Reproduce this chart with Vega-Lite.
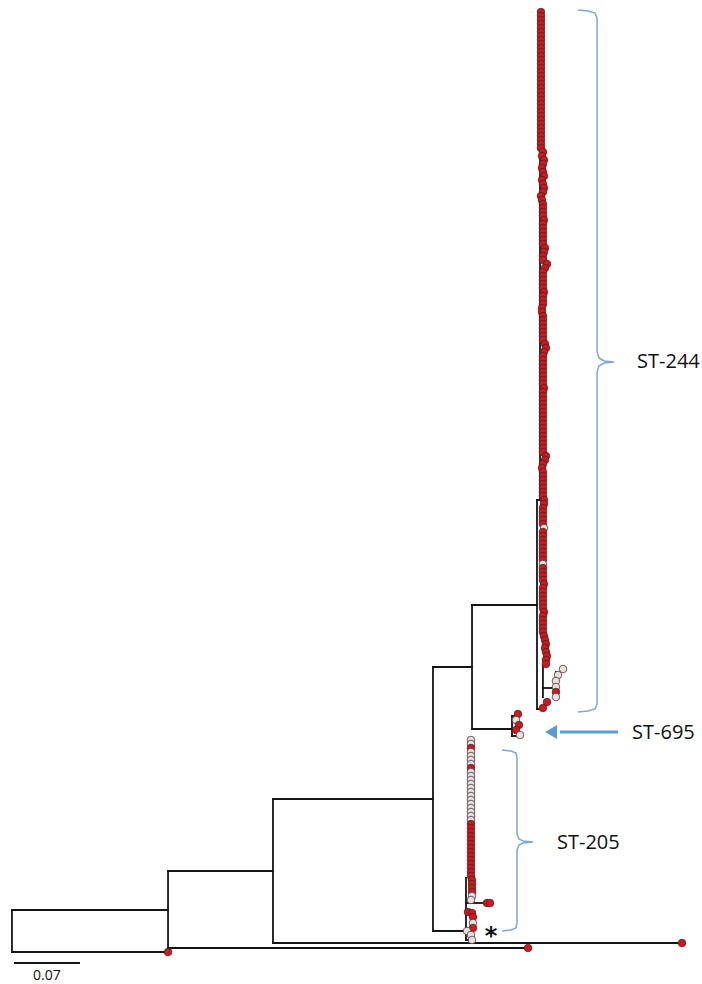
{
"$schema": "https://vega.github.io/schema/vega-lite/v6.json",
"width": 702, "height": 984,
"autosize": {"type": "fit", "contains": "padding"},
"padding": 0,
"background": "white",
"config": {"view": {"stroke": null}},
"datasets": {
"edges": [
{"x":0,"x2":0,"y":910,"y2":952},
{"x":0,"x2":0.1655,"y":910,"y2":910},
{"x":0,"x2":0.1655,"y":952,"y2":952},
{"x":0.1655,"x2":0.1655,"y":871,"y2":952},
{"x":0.1655,"x2":0.2768,"y":871,"y2":871},
{"x":0.1655,"x2":0.5473,"y":948,"y2":948},
{"x":0.2768,"x2":0.2768,"y":799,"y2":943},
{"x":0.2768,"x2":0.4465,"y":799,"y2":799},
{"x":0.2768,"x2":0.7106,"y":943,"y2":943},
{"x":0.4465,"x2":0.4465,"y":667,"y2":931},
{"x":0.4465,"x2":0.4879,"y":667,"y2":667},
{"x":0.4465,"x2":0.4815,"y":931,"y2":931},
{"x":0.4879,"x2":0.4879,"y":605,"y2":729},
{"x":0.4879,"x2":0.5568,"y":605,"y2":605},
{"x":0.4879,"x2":0.5303,"y":729,"y2":729},
{"x":0.5568,"x2":0.5568,"y":500,"y2":709},
{"x":0.5568,"x2":0.561,"y":500,"y2":500},
{"x":0.56,"x2":0.56,"y":12,"y2":500},
{"x":0.5568,"x2":0.5631,"y":709,"y2":709},
{"x":0.5631,"x2":0.5631,"y":665,"y2":697},
{"x":0.5631,"x2":0.5769,"y":688,"y2":688},
{"x":0.5769,"x2":0.5769,"y":672,"y2":697},
{"x":0.5303,"x2":0.5303,"y":716,"y2":736},
{"x":0.5303,"x2":0.5366,"y":716,"y2":716},
{"x":0.5303,"x2":0.5366,"y":736,"y2":736},
{"x":0.4815,"x2":0.4815,"y":878,"y2":940},
{"x":0.4815,"x2":0.5038,"y":903,"y2":903},
{"x":0.4847,"x2":0.4847,"y":740,"y2":880},
{"x":0.4815,"x2":0.4858,"y":940,"y2":940}
],
"tips": [
{"x":0.1655,"y":952,"c":"r"},{"x":0.5473,"y":948,"c":"r"},{"x":0.7106,"y":943,"c":"r"},
{"x":0.561,"y":12,"c":"r"},{"x":0.561,"y":16,"c":"r"},{"x":0.561,"y":20,"c":"r"},{"x":0.561,"y":24,"c":"r"},{"x":0.561,"y":28,"c":"r"},{"x":0.561,"y":32,"c":"r"},{"x":0.561,"y":36,"c":"r"},{"x":0.561,"y":40,"c":"r"},{"x":0.561,"y":44,"c":"r"},{"x":0.561,"y":48,"c":"r"},
{"x":0.561,"y":52,"c":"r"},{"x":0.561,"y":56,"c":"r"},{"x":0.561,"y":60,"c":"r"},{"x":0.561,"y":64,"c":"r"},{"x":0.561,"y":68,"c":"r"},{"x":0.561,"y":72,"c":"r"},{"x":0.561,"y":76,"c":"r"},{"x":0.561,"y":80,"c":"r"},{"x":0.561,"y":84,"c":"r"},{"x":0.561,"y":88,"c":"r"},
{"x":0.561,"y":92,"c":"r"},{"x":0.561,"y":96,"c":"r"},{"x":0.561,"y":100,"c":"r"},{"x":0.561,"y":104,"c":"r"},{"x":0.561,"y":108,"c":"r"},{"x":0.561,"y":112,"c":"r"},{"x":0.561,"y":116,"c":"r"},{"x":0.561,"y":120,"c":"r"},{"x":0.561,"y":124,"c":"r"},{"x":0.561,"y":128,"c":"r"},
{"x":0.561,"y":132,"c":"r"},{"x":0.561,"y":136,"c":"r"},{"x":0.561,"y":140,"c":"r"},{"x":0.561,"y":144,"c":"r"},{"x":0.561,"y":148,"c":"r"},
{"x":0.5631,"y":152,"c":"r"},{"x":0.5621,"y":156,"c":"r"},{"x":0.5642,"y":160,"c":"r"},{"x":0.5631,"y":164,"c":"r"},{"x":0.5621,"y":168,"c":"r"},{"x":0.5631,"y":172,"c":"r"},{"x":0.5642,"y":176,"c":"r"},{"x":0.5621,"y":180,"c":"r"},{"x":0.5631,"y":184,"c":"r"},{"x":0.5642,"y":188,"c":"r"},
{"x":0.5631,"y":192,"c":"r"},{"x":0.561,"y":196,"c":"r"},{"x":0.5621,"y":200,"c":"r"},{"x":0.5631,"y":204,"c":"r"},{"x":0.5631,"y":208,"c":"r"},{"x":0.5631,"y":212,"c":"r"},{"x":0.5631,"y":216,"c":"r"},{"x":0.5642,"y":220,"c":"r"},{"x":0.5631,"y":224,"c":"r"},{"x":0.5631,"y":228,"c":"r"},
{"x":0.5631,"y":232,"c":"r"},{"x":0.5631,"y":236,"c":"r"},{"x":0.5631,"y":240,"c":"r"},{"x":0.5631,"y":244,"c":"r"},{"x":0.5653,"y":248,"c":"r"},{"x":0.5642,"y":252,"c":"r"},{"x":0.5631,"y":256,"c":"r"},{"x":0.5631,"y":260,"c":"r"},{"x":0.5674,"y":264,"c":"r"},{"x":0.5653,"y":268,"c":"r"},
{"x":0.5631,"y":272,"c":"r"},{"x":0.5631,"y":276,"c":"r"},{"x":0.5631,"y":280,"c":"r"},{"x":0.5631,"y":284,"c":"r"},{"x":0.5631,"y":288,"c":"r"},{"x":0.5642,"y":292,"c":"r"},{"x":0.5631,"y":296,"c":"r"},{"x":0.5631,"y":300,"c":"r"},{"x":0.5631,"y":304,"c":"r"},{"x":0.5621,"y":308,"c":"r"},
{"x":0.5621,"y":312,"c":"r"},{"x":0.5631,"y":316,"c":"r"},{"x":0.5631,"y":320,"c":"r"},{"x":0.5631,"y":324,"c":"r"},{"x":0.5631,"y":328,"c":"r"},{"x":0.5631,"y":332,"c":"r"},{"x":0.5631,"y":336,"c":"r"},{"x":0.5631,"y":340,"c":"r"},{"x":0.5653,"y":344,"c":"r"},{"x":0.5663,"y":348,"c":"r"},
{"x":0.5642,"y":352,"c":"r"},{"x":0.5631,"y":356,"c":"r"},{"x":0.5631,"y":360,"c":"r"},{"x":0.5631,"y":364,"c":"r"},{"x":0.5631,"y":368,"c":"r"},{"x":0.5631,"y":372,"c":"r"},{"x":0.5631,"y":376,"c":"r"},{"x":0.5631,"y":380,"c":"r"},{"x":0.5631,"y":384,"c":"r"},{"x":0.5642,"y":388,"c":"r"},
{"x":0.5631,"y":392,"c":"r"},{"x":0.5631,"y":396,"c":"r"},{"x":0.5631,"y":400,"c":"r"},{"x":0.5631,"y":404,"c":"r"},{"x":0.5631,"y":408,"c":"r"},{"x":0.5631,"y":412,"c":"r"},{"x":0.5631,"y":416,"c":"r"},{"x":0.5631,"y":420,"c":"r"},{"x":0.5631,"y":424,"c":"r"},{"x":0.5631,"y":428,"c":"r"},
{"x":0.5631,"y":432,"c":"r"},{"x":0.5631,"y":436,"c":"r"},{"x":0.5631,"y":440,"c":"r"},{"x":0.5631,"y":444,"c":"r"},{"x":0.5631,"y":448,"c":"r"},{"x":0.5631,"y":452,"c":"r"},{"x":0.5663,"y":456,"c":"r"},{"x":0.5653,"y":460,"c":"r"},{"x":0.5631,"y":464,"c":"r"},{"x":0.5621,"y":468,"c":"r"},
{"x":0.5631,"y":472,"c":"r"},{"x":0.5631,"y":476,"c":"r"},{"x":0.5631,"y":480,"c":"r"},{"x":0.5631,"y":484,"c":"r"},{"x":0.5631,"y":488,"c":"r"},{"x":0.5631,"y":492,"c":"r"},{"x":0.5631,"y":496,"c":"r"},{"x":0.5642,"y":500,"c":"r"},{"x":0.5642,"y":504,"c":"r"},{"x":0.5631,"y":508,"c":"r"},
{"x":0.5631,"y":512,"c":"r"},{"x":0.5631,"y":516,"c":"r"},{"x":0.5631,"y":520,"c":"r"},{"x":0.5631,"y":524,"c":"r"},{"x":0.5642,"y":528,"c":"g"},{"x":0.5631,"y":532,"c":"r"},{"x":0.5631,"y":536,"c":"r"},{"x":0.5631,"y":540,"c":"r"},{"x":0.5631,"y":544,"c":"r"},{"x":0.5631,"y":548,"c":"r"},
{"x":0.5631,"y":552,"c":"r"},{"x":0.5631,"y":556,"c":"r"},{"x":0.5631,"y":560,"c":"r"},{"x":0.5631,"y":564,"c":"g"},{"x":0.5631,"y":568,"c":"r"},{"x":0.5631,"y":572,"c":"r"},{"x":0.5631,"y":576,"c":"r"},{"x":0.5631,"y":580,"c":"r"},{"x":0.5642,"y":584,"c":"r"},{"x":0.5631,"y":588,"c":"r"},
{"x":0.5631,"y":592,"c":"r"},{"x":0.5631,"y":596,"c":"r"},{"x":0.5631,"y":600,"c":"r"},{"x":0.5631,"y":604,"c":"r"},{"x":0.5631,"y":608,"c":"r"},{"x":0.5642,"y":612,"c":"r"},{"x":0.5631,"y":616,"c":"r"},{"x":0.5631,"y":620,"c":"r"},{"x":0.5631,"y":624,"c":"r"},{"x":0.5631,"y":628,"c":"r"},
{"x":0.5631,"y":632,"c":"r"},{"x":0.5642,"y":636,"c":"r"},{"x":0.5653,"y":640,"c":"r"},{"x":0.5663,"y":644,"c":"r"},{"x":0.5653,"y":648,"c":"r"},{"x":0.5663,"y":652,"c":"r"},{"x":0.5674,"y":656,"c":"r"},{"x":0.5663,"y":660,"c":"r"},{"x":0.5663,"y":664,"c":"r"},
{"x":0.5844,"y":669,"c":"g"},{"x":0.5791,"y":675,"c":"g"},{"x":0.5769,"y":681,"c":"g"},{"x":0.5769,"y":687,"c":"g"},{"x":0.5769,"y":692,"c":"r"},{"x":0.5769,"y":697,"c":"g"},
{"x":0.5674,"y":702,"c":"r"},{"x":0.5631,"y":708,"c":"r"},
{"x":0.5366,"y":714,"c":"r"},{"x":0.5345,"y":720,"c":"g"},{"x":0.5377,"y":725,"c":"r"},{"x":0.5345,"y":730,"c":"r"},{"x":0.5388,"y":735,"c":"g"},
{"x":0.4868,"y":740,"c":"g"},{"x":0.4868,"y":744,"c":"g"},{"x":0.4868,"y":748,"c":"r"},{"x":0.4868,"y":752,"c":"g"},{"x":0.4868,"y":756,"c":"g"},{"x":0.4868,"y":760,"c":"g"},{"x":0.4868,"y":764,"c":"g"},{"x":0.4868,"y":768,"c":"r"},{"x":0.4868,"y":772,"c":"g"},{"x":0.4868,"y":776,"c":"g"},
{"x":0.4868,"y":780,"c":"g"},{"x":0.4868,"y":784,"c":"g"},{"x":0.4868,"y":788,"c":"g"},{"x":0.4868,"y":792,"c":"g"},{"x":0.4868,"y":796,"c":"g"},{"x":0.4868,"y":800,"c":"g"},{"x":0.4868,"y":804,"c":"g"},{"x":0.4868,"y":808,"c":"g"},{"x":0.4868,"y":812,"c":"g"},{"x":0.4868,"y":816,"c":"g"},
{"x":0.4868,"y":820,"c":"g"},{"x":0.4868,"y":824,"c":"r"},{"x":0.4868,"y":828,"c":"r"},{"x":0.4868,"y":832,"c":"r"},{"x":0.4868,"y":836,"c":"r"},{"x":0.4868,"y":840,"c":"r"},{"x":0.4868,"y":844,"c":"r"},{"x":0.4868,"y":848,"c":"r"},{"x":0.4868,"y":852,"c":"r"},{"x":0.4868,"y":856,"c":"r"},
{"x":0.4868,"y":860,"c":"r"},{"x":0.4868,"y":864,"c":"r"},{"x":0.4868,"y":868,"c":"r"},{"x":0.4868,"y":872,"c":"r"},{"x":0.4868,"y":876,"c":"r"},{"x":0.4879,"y":880,"c":"r"},{"x":0.4879,"y":884,"c":"r"},{"x":0.4879,"y":888,"c":"r"},{"x":0.4879,"y":892,"c":"r"},{"x":0.4879,"y":896,"c":"g"},{"x":0.4868,"y":900,"c":"g"},
{"x":0.5038,"y":903,"c":"r"},{"x":0.507,"y":903,"c":"r"},
{"x":0.4836,"y":912,"c":"r"},{"x":0.4879,"y":913,"c":"r"},{"x":0.4889,"y":917,"c":"r"},{"x":0.4889,"y":923,"c":"g"},{"x":0.4889,"y":928,"c":"r"},{"x":0.4826,"y":931,"c":"g"},{"x":0.4868,"y":935,"c":"g"},{"x":0.4879,"y":940,"c":"g"}
],
"braces": [
{"b":"a","o":1,"x":0.6003,"y":10},{"b":"a","o":2,"x":0.6109,"y":11},{"b":"a","o":3,"x":0.6183,"y":13},{"b":"a","o":4,"x":0.6205,"y":18},{"b":"a","o":5,"x":0.6205,"y":352},{"b":"a","o":6,"x":0.6225,"y":358},{"b":"a","o":7,"x":0.6279,"y":361},{"b":"a","o":8,"x":0.6385,"y":362},{"b":"a","o":9,"x":0.6279,"y":363},{"b":"a","o":10,"x":0.6225,"y":366},{"b":"a","o":11,"x":0.6205,"y":372},{"b":"a","o":12,"x":0.6205,"y":704},{"b":"a","o":13,"x":0.6183,"y":709},{"b":"a","o":14,"x":0.6109,"y":711},{"b":"a","o":15,"x":0.6003,"y":712},
{"b":"b","o":1,"x":0.5197,"y":750},{"b":"b","o":2,"x":0.5293,"y":751},{"b":"b","o":3,"x":0.5345,"y":753},{"b":"b","o":4,"x":0.5356,"y":758},{"b":"b","o":5,"x":0.5356,"y":834},{"b":"b","o":6,"x":0.5377,"y":839},{"b":"b","o":7,"x":0.542,"y":841},{"b":"b","o":8,"x":0.5526,"y":842},{"b":"b","o":9,"x":0.542,"y":843},{"b":"b","o":10,"x":0.5377,"y":845},{"b":"b","o":11,"x":0.5356,"y":850},{"b":"b","o":12,"x":0.5356,"y":923},{"b":"b","o":13,"x":0.5345,"y":928},{"b":"b","o":14,"x":0.5293,"y":930},{"b":"b","o":15,"x":0.5197,"y":931}
],
"arrow": [{"x":0.5812,"x2":0.6427,"y":732,"hx":0.5717}],
"labels": [
{"x":0.6629,"y":362,"t":"ST-244"},
{"x":0.6576,"y":733,"t":"ST-695"},
{"x":0.578,"y":843,"t":"ST-205"}
],
"scalebar": [{"x":0.0021,"x2":0.0721,"y":963,"ty":976,"tx":0.0371,"t":"0.07"}],
"star": [{"x":0.508,"y":944,"t":"*"}]
},
"encoding": {
"x": {"field": "x", "type": "quantitative", "scale": {"domain": [-0.0127, 0.7318], "nice": false, "zero": false}, "axis": null},
"y": {"field": "y", "type": "quantitative", "scale": {"domain": [0, 984], "reverse": true, "nice": false, "zero": false}, "axis": null}
},
"layer": [
{"data": {"name": "edges"}, "mark": {"type": "rule", "color": "#151515", "strokeWidth": 1.8, "strokeCap": "square"},
 "encoding": {"x2": {"field": "x2"}, "y2": {"field": "y2"}}},
{"data": {"name": "braces"}, "mark": {"type": "line", "color": "#7ea7d8", "strokeWidth": 1.5},
 "encoding": {"detail": {"field": "b", "type": "nominal"}, "order": {"field": "o", "type": "quantitative"}}},
{"data": {"name": "arrow"}, "mark": {"type": "rule", "color": "#5b9bd5", "strokeWidth": 3},
 "encoding": {"x2": {"field": "x2"}}},
{"data": {"name": "arrow"}, "mark": {"type": "point", "shape": "triangle-left", "filled": true, "size": 190, "color": "#5b9bd5", "opacity": 1},
 "encoding": {"x": {"field": "hx", "type": "quantitative"}}},
{"data": {"name": "tips"}, "mark": {"type": "point", "shape": "circle", "filled": true, "size": 58, "stroke": "#4a1a1a", "strokeWidth": 0.7, "opacity": 1},
 "encoding": {"fill": {"field": "c", "type": "nominal", "scale": {"domain": ["r", "g"], "range": ["#cc1a20", "#e2e2e2"]}, "legend": null}}},
{"data": {"name": "labels"}, "mark": {"type": "text", "align": "left", "baseline": "middle", "font": "Open Sans", "fontSize": 20, "color": "#111111"},
 "encoding": {"text": {"field": "t"}}},
{"data": {"name": "scalebar"}, "mark": {"type": "rule", "color": "#151515", "strokeWidth": 1.8},
 "encoding": {"x2": {"field": "x2"}}},
{"data": {"name": "scalebar"}, "mark": {"type": "text", "align": "center", "baseline": "middle", "font": "Open Sans", "fontSize": 14, "color": "#111111"},
 "encoding": {"x": {"field": "tx", "type": "quantitative"}, "y": {"field": "ty", "type": "quantitative"}, "text": {"field": "t"}}},
{"data": {"name": "star"}, "mark": {"type": "text", "align": "center", "baseline": "alphabetic", "font": "DejaVu Sans", "fontSize": 24, "fontWeight": "bold", "color": "#111111"},
 "encoding": {"text": {"field": "t"}}}
]
}
